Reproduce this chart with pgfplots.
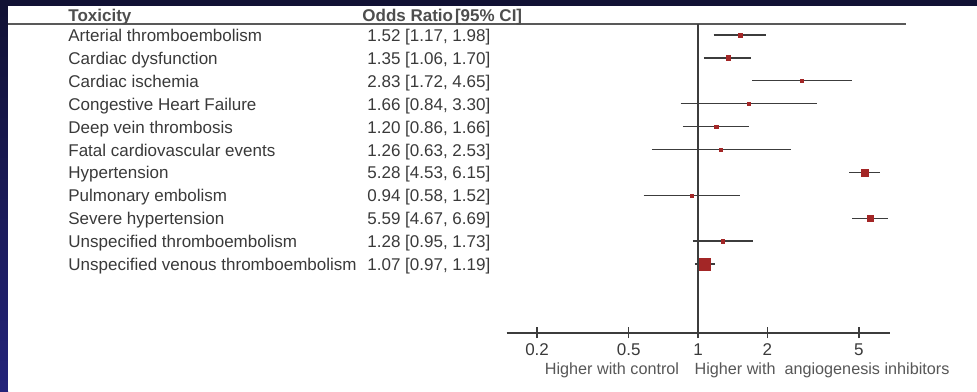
\documentclass[border=0pt]{standalone}
\usepackage{pgfplots}
\pgfplotsset{compat=1.18}
\usepackage{pgfplotstable}
\usepackage{fontspec}
\setmainfont{Liberation Sans}
\definecolor{navytop}{RGB}{17,17,52}
\definecolor{navybot}{RGB}{36,36,122}
\definecolor{txt}{RGB}{58,58,58}
\definecolor{ln}{RGB}{60,60,60}
\definecolor{sq}{RGB}{163,38,38}

\pgfplotstableread{
x y lo hi s
1.52 1 1.17 1.98 1.0
1.35 2 1.06 1.70 1.1
2.83 3 1.72 4.65 0.75
1.66 4 0.84 3.30 0.75
1.20 5 0.86 1.66 0.9
1.26 6 0.63 2.53 0.75
5.28 7 4.53 6.15 1.75
0.94 8 0.58 1.52 0.75
5.59 9 4.67 6.69 1.4
1.28 10 0.95 1.73 0.9
1.07 11 0.97 1.19 2.9
}\ortable

\newcommand{\tf}{\fontsize{8.5}{10}\selectfont}
\begin{document}
\begin{tikzpicture}
\begin{scope}[x=0.5pt,y=-0.5pt]
\fill[navytop] (0,0) rectangle (977,391);
\shade[top color=navytop,bottom color=navybot] (0,6) rectangle (8,391);
\fill[white] (8,6) rectangle (977,391);
\draw[ln!85, line width=1.1pt] (8,24) -- (906,24);
\node[anchor=base west, inner sep=0, font=\tf\bfseries, text=txt!90] at (68,21) {Toxicity};
\node[anchor=base west, inner sep=0, font=\tf\bfseries, text=txt!90] at (362,21) {Odds Ratio\kern1pt[95\% CI]};
\foreach \n/\o [count=\i] in {
  {Arterial thromboembolism}/{1.52 [1.17, 1.98]},
  {Cardiac dysfunction}/{1.35 [1.06, 1.70]},
  {Cardiac ischemia}/{2.83 [1.72, 4.65]},
  {Congestive Heart Failure}/{1.66 [0.84, 3.30]},
  {Deep vein thrombosis}/{1.20 [0.86, 1.66]},
  {Fatal cardiovascular events}/{1.26 [0.63, 2.53]},
  {Hypertension}/{5.28 [4.53, 6.15]},
  {Pulmonary embolism}/{0.94 [0.58, 1.52]},
  {Severe hypertension}/{5.59 [4.67, 6.69]},
  {Unspecified thromboembolism}/{1.28 [0.95, 1.73]},
  {Unspecified venous thromboembolism}/{1.07 [0.97, 1.19]}} {
  \pgfmathsetmacro\yy{35+22.9*(\i-1)+6.5}
  \node[anchor=base west, inner sep=0, font=\tf, text=txt] at (68,\yy) {\n};
  \node[anchor=base west, inner sep=0, font=\tf, text=txt] at (367,\yy) {\o};
}
\node[anchor=base, inner sep=0, font=\fontsize{8.1}{10}\selectfont, text=txt!85] at (612,374) {Higher with control};
\node[anchor=base, inner sep=0, font=\fontsize{8.1}{10}\selectfont, text=txt!85] at (822,374) {Higher with\ \ angiogenesis inhibitors};
\end{scope}
\begin{axis}[
  at={(253.35pt,-166.35pt)}, anchor=south west,
  scale only axis, width=191.65pt, height=154.35pt,
  xmode=log, xmin=0.1476, xmax=6.82,
  y dir=reverse, ymin=0.52, ymax=14,
  axis y line=none, axis x line*=bottom,
  x axis line style={-, draw=ln, line width=0.8pt},
  xtick={0.2,0.5,1,2,5}, xticklabels={0.2,0.5,1,2,5},
  xminorticks=false,
  tick align=center, major tick length=5.5pt,
  every tick/.style={draw=ln, line width=0.7pt},
  ytick=\empty,
  clip=false,
  xticklabel style={font=\tf, text=txt, yshift=0.6pt},
]
\addplot[ln, line width=0.7pt] coordinates {(1,0.52) (1,14)};
\addplot[ln, line width=0.65pt, unbounded coords=jump] coordinates {
  (1.17,1) (1.98,1) (nan,nan)
  (1.06,2) (1.70,2) (nan,nan)
  (1.72,3) (4.65,3) (nan,nan)
  (0.84,4) (3.30,4) (nan,nan)
  (0.86,5) (1.66,5) (nan,nan)
  (0.63,6) (2.53,6) (nan,nan)
  (4.53,7) (6.15,7) (nan,nan)
  (0.58,8) (1.52,8) (nan,nan)
  (4.67,9) (6.69,9) (nan,nan)
  (0.95,10) (1.73,10) (nan,nan)
  (0.97,11) (1.19,11)
};
\addplot[scatter, only marks, mark=square*,
  scatter/use mapped color={draw=sq, fill=sq},
  mark options={line width=0.2pt},
  visualization depends on={\thisrow{s} \as \msz},
  scatter/@pre marker code/.append style={/tikz/mark size=\msz}]
  table[x=x, y=y] {\ortable};
\end{axis}
\pgfresetboundingbox
\useasboundingbox (0,0) rectangle (488.5pt,-195.5pt);
\end{tikzpicture}
\end{document}
